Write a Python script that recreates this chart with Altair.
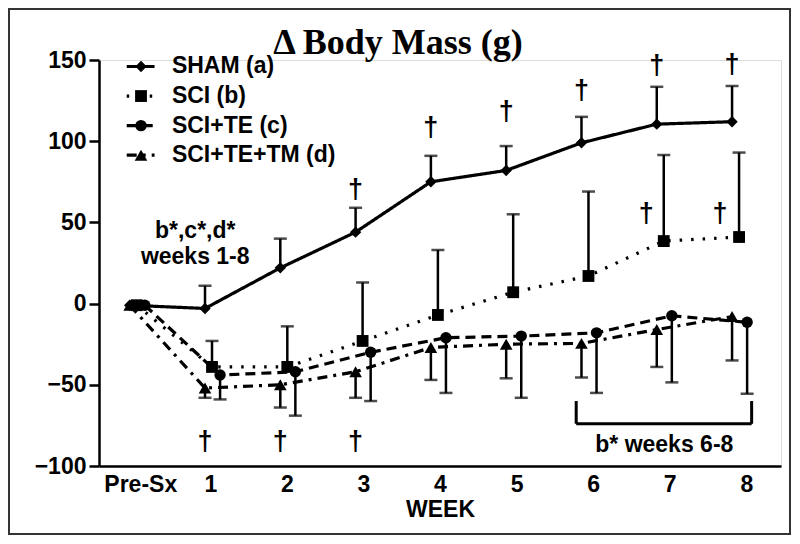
import altair as alt
import pandas as pd

# ---------------- data ----------------
weeks = [0, 1, 2, 3, 4, 5, 6, 7, 8]          # 0 = Pre-Sx
week_labels = ["Pre-Sx", "1", "2", "3", "4", "5", "6", "7", "8"]

series = ["SHAM (a)", "SCI (b)", "SCI+TE (c)", "SCI+TE+TM (d)"]

sham_mean = [-1, -3, 22, 44, 75, 82, 99, 110.5, 112]
sham_err = [None, 14, 18, 15, 16, 15, 16, 23, 22]

sci_mean = [-1, -39, -39, -23, -7, 7, 17, 38.5, 41]
sci_err = [None, 16, 25, 36, 40, 48, 52, 53, 52]

te_mean = [-1, -44, -42, -30, -21, -20, -18, -7.5, -11.5]
te_err = [None, 15, 27, 30, 34, 38, 37, 41, 44]

tm_mean = [-1, -52, -50, -42, -27, -25, -24.5, -16, -8]
tm_err = [None, 6, 14, 16, 20, 21, 21, 23, 27]

# significance daggers (week, y value)
dagger_week = [1, 2, 3, 3, 4, 5, 6, 7, 8, 6.86, 7.84]
dagger_val = [-85, -85, -85, 70, 108, 118, 131, 146, 147, 55, 55]

# ---------------- build tables ----------------
means = [sham_mean, sci_mean, te_mean, tm_mean]
errs = [sham_err, sci_err, te_err, tm_err]
offsets = [0.0, 0.093, 0.2, 0.0]          # small horizontal dodge per group
err_dir = [1, 1, -1, -1]                  # bars drawn up or down
dashes = [[1, 0], [2.5, 9], [10, 6], [10, 6, 3, 6]]
shapes = ["diamond", "square", "circle", "triangle-up"]
sizes = [130, 140, 130, 160]

rows = []
for s, m, e, off, d in zip(series, means, errs, offsets, err_dir):
    for w, v, ee in zip(weeks, m, e):
        r = {"series": s, "x": w + off, "y": v}
        if ee is not None:
            r["end"] = v + d * ee
        rows.append(r)
df = pd.DataFrame(rows)
dfe = df.dropna(subset=["end"])

xs = alt.Scale(domain=[-0.408, 8.65], nice=False, zero=False)
ys = alt.Scale(domain=[-100, 150], nice=False, zero=False)

tick_pos = [0.14] + [w + 0.07 + 0.017 * (w - 1) for w in weeks[1:]]

FONT = "Liberation Sans"
FS = 23

X = alt.X("x:Q", scale=xs, axis=alt.Axis(
    values=tick_pos,
    labelExpr="datum.value < 0.5 ? 'Pre-Sx' : format(round(datum.value), 'd')",
    ticks=False, grid=False, domainColor="black", domainWidth=2.5,
    labelFont=FONT, labelFontWeight="bold", labelFontSize=FS, labelColor="black",
    labelPadding=7, title="WEEK", titleFont=FONT, titleFontWeight="bold",
    titleFontSize=FS, titleColor="black", titlePadding=2))
Y = alt.Y("y:Q", scale=ys, axis=alt.Axis(
    values=[-100, -50, 0, 50, 100, 150], grid=False, domainColor="black",
    domainWidth=2.5, tickColor="black", tickWidth=2.5, tickSize=10,
    labelFont=FONT, labelFontWeight="bold", labelFontSize=FS, labelColor="black",
    labelPadding=3, title=None))

layers = []
for s, dsh, shp, sz in zip(series, dashes, shapes, sizes):
    sub = df[df.series == s]
    sube = dfe[dfe.series == s]
    layers.append(alt.Chart(sube).mark_rule(color="black", strokeWidth=2.5).encode(
        x=alt.X("x:Q", scale=xs), y=alt.Y("y:Q", scale=ys), y2="end:Q"))
    layers.append(alt.Chart(sube).mark_tick(color="black", orient="horizontal",
                                             size=13, thickness=2.5).encode(
        x=alt.X("x:Q", scale=xs), y=alt.Y("end:Q", scale=ys)))
    layers.append(alt.Chart(sub).mark_line(color="black", strokeWidth=3.2,
                                           strokeDash=dsh).encode(x=X, y=Y))
    layers.append(alt.Chart(sub).mark_point(shape=shp, size=sz, filled=True,
                                            color="black", opacity=1).encode(
        x=alt.X("x:Q", scale=xs), y=alt.Y("y:Q", scale=ys)))

# daggers
dag = pd.DataFrame({"x": dagger_week, "y": dagger_val, "t": ["†"] * len(dagger_week)})
layers.append(alt.Chart(dag).mark_text(font=FONT, fontWeight="bold", fontSize=27,
                                       color="black", baseline="middle").encode(
    x=alt.X("x:Q", scale=xs), y=alt.Y("y:Q", scale=ys), text="t:N"))

# annotations
ann = pd.DataFrame({"x": [0.87, 0.87, 7.1],
                    "y": [45, 28.6, -87],
                    "t": ["b*,c*,d*", "weeks 1-8", "b* weeks 6-8"]})
layers.append(alt.Chart(ann).mark_text(font=FONT, fontWeight="bold", fontSize=FS,
                                       color="black", baseline="middle").encode(
    x=alt.X("x:Q", scale=xs), y=alt.Y("y:Q", scale=ys), text="t:N"))

# bracket for weeks 6-8
br = pd.DataFrame({"x": [5.93, 5.93, 8.26], "x2": [5.93, 8.26, 8.26],
                   "y": [-60, -74, -60], "y2": [-74, -74, -74]})
layers.append(alt.Chart(br).mark_rule(color="black", strokeWidth=3).encode(
    x=alt.X("x:Q", scale=xs), x2="x2:Q", y=alt.Y("y:Q", scale=ys), y2="y2:Q"))

# legend (built from the series list)
leg_y = [146 - 18.2 * i for i in range(len(series))]
for i, (s, dsh, shp, sz) in enumerate(zip(series, dashes, shapes, sizes)):
    ld = pd.DataFrame({"x": [-0.04, 0.33], "y": [leg_y[i]] * 2})
    layers.append(alt.Chart(ld).mark_line(color="black", strokeWidth=3.2,
                                          strokeDash=dsh).encode(
        x=alt.X("x:Q", scale=xs), y=alt.Y("y:Q", scale=ys)))
    pd_ = pd.DataFrame({"x": [0.15], "y": [leg_y[i]]})
    layers.append(alt.Chart(pd_).mark_point(shape=shp, size=sz, filled=True,
                                            color="black", opacity=1).encode(
        x=alt.X("x:Q", scale=xs), y=alt.Y("y:Q", scale=ys)))
    td = pd.DataFrame({"x": [0.56], "y": [leg_y[i]], "t": [s]})
    layers.append(alt.Chart(td).mark_text(font=FONT, fontWeight="bold", fontSize=FS,
                                          color="black", align="left",
                                          baseline="middle").encode(
        x=alt.X("x:Q", scale=xs), y=alt.Y("y:Q", scale=ys), text="t:N"))

# title and outer frame
one = alt.Data(values=[{}])
title = alt.Chart(one).mark_text(text="Δ Body Mass (g)", font="Liberation Serif",
                                 fontWeight="bold", fontSize=36, color="black",
                                 baseline="middle").encode(
    x=alt.value(299), y=alt.value(-17))
frame = alt.Chart(one).mark_rect(filled=False, stroke="#333333", strokeWidth=2).encode(
    x=alt.value(-90), x2=alt.value(691), y=alt.value(-51), y2=alt.value(474))

chart = alt.layer(*layers, title, frame).properties(
    width=682, height=406,
    autosize=alt.AutoSizeParams(type="none"),
    padding={"left": 91, "top": 52, "right": 11, "bottom": 70},
).configure_view(stroke=None).configure(background="white")

chart.save("out.html", embed_options={"renderer": "svg", "actions": False})
